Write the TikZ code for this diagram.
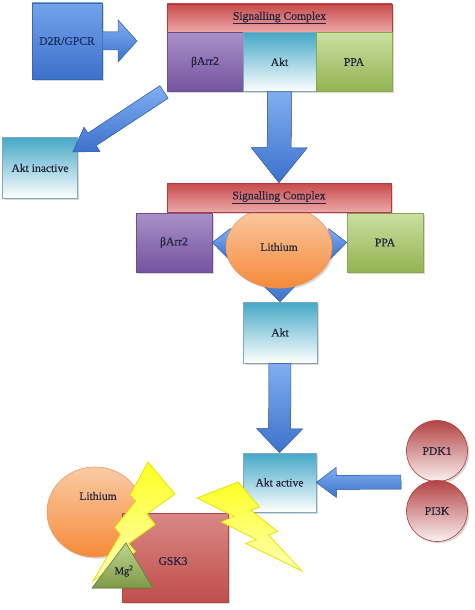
\documentclass[tikz,border=0pt]{standalone}
\usepackage{fontspec}
\setmainfont{Liberation Serif}
\newfontfamily\dfont{Liberation Serif}[FakeBold=0.45]
\usetikzlibrary{calc,shapes.geometric,shadows}
\definecolor{txt}{HTML}{24243C}
\definecolor{navy}{HTML}{1B2F63}
\definecolor{blueL}{HTML}{7FAEF0}
\definecolor{blueM}{HTML}{3D72CC}
\definecolor{blueD}{HTML}{3A66B0}
\definecolor{redT}{HTML}{C84A4B}
\definecolor{redB}{HTML}{ECA8A8}
\definecolor{redD}{HTML}{B0393B}
\definecolor{purT}{HTML}{A890C8}
\definecolor{purB}{HTML}{7454A0}
\definecolor{purD}{HTML}{6A4E92}
\definecolor{cyanT}{HTML}{45A8C6}
\definecolor{cyanD}{HTML}{7FA8BC}
\definecolor{grnT}{HTML}{CADFA2}
\definecolor{grnB}{HTML}{93B350}
\definecolor{grnD}{HTML}{88A84A}
\definecolor{orT}{HTML}{FBCBA5}
\definecolor{orB}{HTML}{F58A3A}
\definecolor{orD}{HTML}{E59A66}
\definecolor{gskT}{HTML}{D98886}
\definecolor{gskB}{HTML}{C04E4B}
\definecolor{boltA}{HTML}{FFFF22}
\definecolor{boltB}{HTML}{FFFFB8}
\definecolor{boltD}{HTML}{E2E200}
\newcommand\blockarrow[6][]{%
  \coordinate (ba-h) at ($(#3)!#6!(#2)$);
  \filldraw[barrow,#1] ($(#2)!#4!90:(#3)$) -- ($(ba-h)!#4!90:(#3)$) --
    ($(ba-h)!#5!90:(#3)$) -- (#3) -- ($(ba-h)!#5!-90:(#3)$) --
    ($(ba-h)!#4!-90:(#3)$) -- ($(#2)!#4!-90:(#3)$) -- cycle;}
\begin{document}
\begin{tikzpicture}[x=1pt,y=-1pt,
  every node/.style={font=\dfont\fontsize{11.6}{13}\selectfont, text=txt},
  shad/.style={drop shadow={opacity=0.3,shadow xshift=1.8pt,shadow yshift=-1.8pt}},
  box/.style={rectangle, line width=0.6pt, inner sep=0pt, shad},
  bluebox/.style={box, draw=blueD, top color=blueL!80!blueM, bottom color=blueM},
  redbar/.style={box, draw=redD, top color=redT, bottom color=redB},
  purbox/.style={box, draw=purD, top color=purT, bottom color=purB},
  cyanbox/.style={box, draw=cyanD, top color=cyanT, bottom color=white},
  grnbox/.style={box, draw=grnD, top color=grnT, bottom color=grnB},
  libox/.style={ellipse, line width=0.6pt, inner sep=0pt, draw=orD, top color=orT, bottom color=orB, shad},
  redcirc/.style={circle, line width=0.6pt, inner sep=0pt, minimum size=61pt, draw=redD, top color=redT!90!black, bottom color=white!92!redT, shad},
  barrow/.style={draw=blueD, line width=0.5pt, top color=blueL, bottom color=blueM, line join=miter},
  bolt/.style={draw=boltD, line width=0.8pt, top color=boltA, bottom color=boltB, line join=miter}]
\useasboundingbox (0,0) rectangle (474,610);
% ---------- top section
\node[bluebox, minimum width=70pt, minimum height=76pt, text=navy] (d2r) at (67,41) {D2R/GPCR};
\node[redbar, minimum width=225pt, minimum height=28pt] (sc1) at (279.5,18) {\underline{Signalling Complex}};
\node[purbox, minimum width=76pt, minimum height=59pt] (barr1) at (205,62) {βArr2};
\node[cyanbox, minimum width=73pt, minimum height=59pt] (akt1) at (279.5,62) {Akt};
\node[grnbox, minimum width=76pt, minimum height=59pt] (ppa1) at (354,62) {PPA};
\node[cyanbox, minimum width=75pt, minimum height=61pt] (aktin) at (40,168) {Akt inactive};
\coordinate (a1tip) at (137,41);
\coordinate (a2s) at (164,92);
\coordinate (a2tip) at ($(aktin.east)+(-5,-16)$);
% ---------- middle section
\node[purbox, minimum width=76pt, minimum height=59pt] (barr2) at (174,242.5) {βArr2};
\node[grnbox, minimum width=76pt, minimum height=59pt] (ppa2) at (385,242.5) {PPA};
\node[cyanbox, minimum width=74pt, minimum height=61pt] (akt2) at (280,332.5) {Akt};
\coordinate (lic) at (279,247);
\blockarrow{lic}{barr2.east}{7pt}{15pt}{17pt}
\blockarrow{lic}{ppa2.west}{7pt}{15pt}{17pt}
\blockarrow{lic}{akt2.north}{8pt}{17pt}{17pt}
\node[libox, minimum width=106pt, minimum height=82pt] (li1) at (lic) {Lithium};
\node[redbar, minimum width=224pt, minimum height=29pt] (sc2) at (279,197.5) {\underline{Signalling Complex}};
% ---------- bottom section
\node[cyanbox, minimum width=73pt, minimum height=59pt] (aktact) at (279.5,482.5) {Akt active};
\node[redcirc] (pdk1) at (437,451) {PDK1};
\node[redcirc] (pi3k) at (437,511) {PI3K};
\coordinate (a5s) at (401,482);
\node[libox, minimum width=96pt, minimum height=90pt] (li2) at (95,512) {};
\node (li2lbl) at (98,496) {Lithium};
\node[box, draw=gskB!90!black, top color=gskT, bottom color=gskB, minimum width=106pt, minimum height=89pt] (gsk3) at (175,557.5) {};
\node (gsklbl) at (173,561) {GSK3};
% arrows between nodes
\blockarrow{d2r.east}{a1tip}{9pt}{21pt}{19pt}
\blockarrow{a2s}{a2tip}{7.5pt}{14.5pt}{23pt}
\blockarrow{akt1.south}{sc2.north}{12pt}{28pt}{35pt}
\blockarrow{akt2.south}{aktact.north}{11pt}{23pt}{24pt}
\blockarrow{a5s}{aktact.east}{7pt}{15pt}{20pt}
% lightning bolts
\path[bolt] (148,462) -- (130.2,494.8) -- (136,501) -- (114.7,527.4) -- (120.4,534.4) -- (93,581)
  -- (135.6,551.5) -- (128.6,543.7) -- (155.1,524.6) -- (147,514) -- (175,494) -- cycle;
\path[bolt] (238.2,482) -- (259.5,507.1) -- (250.7,510) -- (277.6,531.5) -- (268.8,535.1) -- (302,571)
  -- (245.7,543.5) -- (256.4,539.6) -- (221.4,522) -- (234,516.5) -- (197,498) -- cycle;
% Mg triangle
\filldraw[line width=0.6pt, draw=grnD!80!black, top color=grnT!80!grnB, bottom color=grnB!85!black] (92,588) -- (126,543) -- (153,588) -- cycle;
\node[font=\dfont\fontsize{10.5}{12}\selectfont] (mg) at (124,571) {Mg\textsuperscript{2}};
\end{tikzpicture}
\end{document}
